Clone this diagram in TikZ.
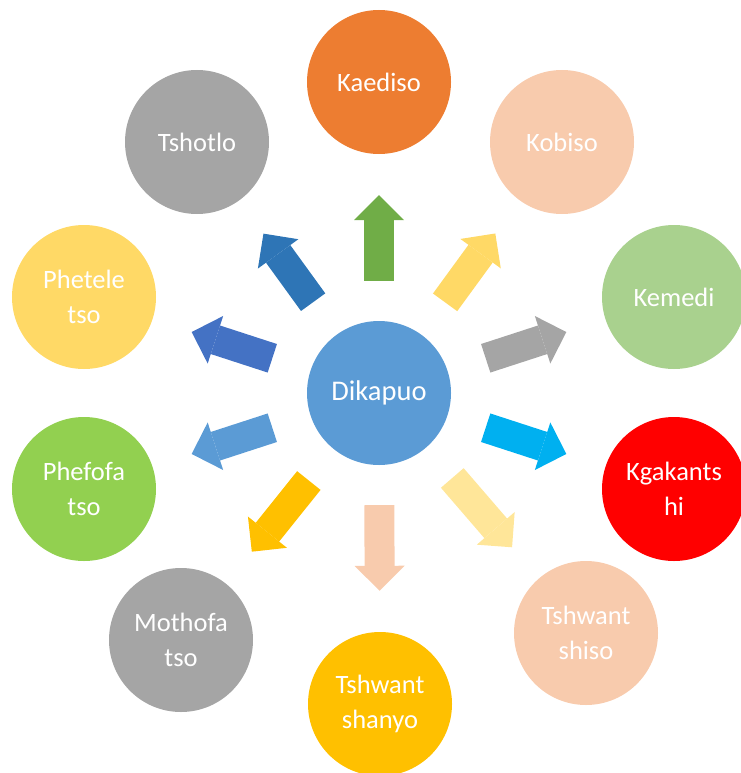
\documentclass[tikz,border=0pt]{standalone}
\usepackage{fontspec}
\setmainfont{Carlito}
\usetikzlibrary{arrows.meta}
\definecolor{cCenter}{HTML}{5B9BD5}
\definecolor{cOrange}{HTML}{ED7D31}
\definecolor{cPeach}{HTML}{F8CBAD}
\definecolor{cLGreen}{HTML}{A9D18E}
\definecolor{cRed}{HTML}{FF0000}
\definecolor{cGold}{HTML}{FFC000}
\definecolor{cGray}{HTML}{A5A5A5}
\definecolor{cGreen}{HTML}{92D050}
\definecolor{cYellow}{HTML}{FFD966}
\definecolor{aGreen}{HTML}{70AD47}
\definecolor{aCyan}{HTML}{00B0F0}
\definecolor{aLYellow}{HTML}{FFE699}
\definecolor{aBlue}{HTML}{4472C4}
\definecolor{aDBlue}{HTML}{2E75B6}
\begin{document}
\begin{tikzpicture}[x=1bp,y=-1bp,
  bubble/.style={circle, minimum size=144bp, inner sep=0pt, text=white, align=center,
    font=\fontsize{26.5bp}{35bp}\selectfont},
  blockarrow/.style={line width=30bp, #1,
    -{Triangle[width=50bp,length=25bp,line width=0pt]},
    shorten <=40bp, shorten >=41bp}]
\useasboundingbox (0,0) rectangle (741,773);
\clip (0,0) rectangle (741,773);
\node[bubble, fill=cCenter, font=\fontsize{28.5bp}{35bp}\selectfont] (c) at (379,393) {Dikapuo};
\node[bubble, fill=cOrange] (kae) at (379,82) {Kaediso};
\node[bubble, fill=cPeach] (kob) at (562,142) {Kobiso};
\node[bubble, fill=cLGreen] (kem) at (674,297) {Kemedi};
\node[bubble, fill=cRed] (kga) at (674,489) {Kgakants\\hi};
\node[bubble, fill=cPeach] (tsi) at (586,633) {Tshwant\\shiso};
\node[bubble, fill=cGold] (tsa) at (380,704) {Tshwant\\shanyo};
\node[bubble, fill=cGray] (mot) at (181,640) {Mothofa\\tso};
\node[bubble, fill=cGreen] (phf) at (84,489) {Phefofa\\tso};
\node[bubble, fill=cYellow] (pht) at (84,297) {Phetele\\tso};
\node[bubble, fill=cGray] (tsh) at (197,142) {Tshotlo};
\draw[blockarrow=aGreen] (c) -- (kae);
\draw[blockarrow=cYellow] (c) -- (kob);
\draw[blockarrow=cGray] (c) -- (kem);
\draw[blockarrow=aCyan] (c) -- (kga);
\draw[blockarrow=aLYellow] (c) -- (tsi);
\draw[blockarrow=cPeach] (c) -- (tsa);
\draw[blockarrow=cGold] (c) -- (mot);
\draw[blockarrow=cCenter] (c) -- (phf);
\draw[blockarrow=aBlue] (c) -- (pht);
\draw[blockarrow=aDBlue] (c) -- (tsh);
\end{tikzpicture}
\end{document}
